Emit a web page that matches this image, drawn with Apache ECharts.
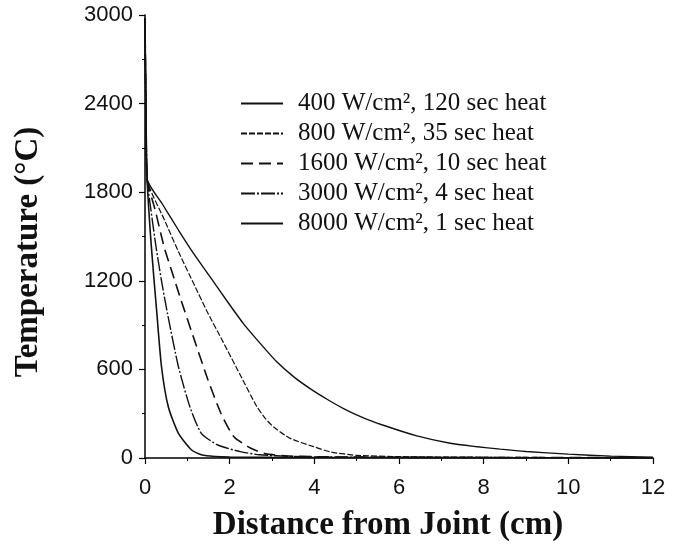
<!DOCTYPE html>
<html>
<head>
<meta charset="utf-8">
<script src="https://cdn.jsdelivr.net/npm/echarts@6/dist/echarts.min.js"></script>
<style>html,body{margin:0;padding:0;background:#fff;}#c{width:681px;height:546px;}</style>
</head>
<body>
<div id="c"></div>
<script>
// Data
const seriesNames = [
  '400 W/cm², 120 sec heat',
  '800 W/cm², 35 sec heat',
  '1600 W/cm², 10 sec heat',
  '3000 W/cm², 4 sec heat',
  '8000 W/cm², 1 sec heat'
];
const x400 = [0, 0.02, 0.05, 0.42, 0.79, 1.15, 1.53, 1.92, 2.32, 2.7, 3.1, 3.5, 3.9, 4.3, 4.69, 5.16, 5.63, 6.4, 7.21, 7.8, 8.39, 9, 10, 11, 12];
const t400 = [2980, 2400, 1890, 1715, 1544, 1384, 1230, 1070, 912, 783, 655, 553, 470, 398, 335, 272, 222, 152, 100, 78, 60, 44, 26, 13, 6];
const x800 = [0, 0.02, 0.05, 0.45, 0.83, 1.15, 1.46, 1.85, 2.25, 2.64, 2.85, 3.03, 3.43, 3.98, 4.4, 5, 6, 8, 10, 12];
const t800 = [2980, 2400, 1890, 1618, 1373, 1181, 996, 783, 562, 349, 265, 212, 133, 77, 40, 18, 9, 5, 3, 2];
const x1600 = [0, 0.02, 0.05, 0.24, 0.45, 0.65, 0.85, 1.16, 1.48, 1.79, 2.1, 2.5, 2.85, 3.5, 5, 8, 12];
const t1600 = [2980, 2400, 1890, 1680, 1431, 1250, 1070, 805, 535, 305, 144, 66, 28, 12, 6, 3, 2];
const x3000 = [0, 0.02, 0.05, 0.14, 0.26, 0.39, 0.53, 0.79, 1.06, 1.33, 1.72, 2.25, 2.7, 3.5, 5, 8, 12];
const t3000 = [2980, 2400, 1890, 1680, 1431, 1200, 980, 618, 347, 167, 88, 43, 22, 10, 5, 3, 2];
const x8000 = [0, 0.02, 0.05, 0.15, 0.28, 0.39, 0.55, 0.79, 1.1, 1.35, 1.65, 2, 3, 5, 8, 12];
const t8000 = [2980, 2400, 1890, 1431, 980, 618, 347, 167, 54, 20, 10, 6, 4, 3, 2, 1];
const xTicks = [0, 2, 4, 6, 8, 10, 12];
const yTicks = [0, 600, 1200, 1800, 2400, 3000];

const xs = [x400, x800, x1600, x3000, x8000];
const ts = [t400, t800, t1600, t3000, t8000];
const styles = [
  { type: 'solid', width: 1.4 },
  { type: [6, 2], width: 1.2 },
  { type: [12, 6], width: 1.6 },
  { type: [14, 2, 2, 2], width: 1.4 },
  { type: 'solid', width: 1.6 }
];

const chart = echarts.init(document.getElementById('c'), null, { renderer: 'canvas' });
const serif = '"Liberation Serif", "Times New Roman", serif';
const sans = '"Liberation Sans", Arial, sans-serif';

chart.setOption({
  animation: false,
  backgroundColor: '#fff',
  grid: { left: 145, right: 28, top: 15, bottom: 88 },
  xAxis: {
    type: 'value',
    min: xTicks[0], max: xTicks[xTicks.length - 1], interval: xTicks[1] - xTicks[0],
    axisLine: { show: true, lineStyle: { color: '#000', width: 1.5 } },
    axisTick: { show: true, length: 6, lineStyle: { color: '#000', width: 1.2 } },
    minorTick: { show: true, splitNumber: 2, length: 3, lineStyle: { color: '#000', width: 1 } },
    splitLine: { show: false },
    axisLabel: { fontSize: 22, fontFamily: sans, color: '#111', margin: 19, formatter: v => String(v) }
  },
  yAxis: {
    type: 'value',
    min: yTicks[0], max: yTicks[yTicks.length - 1], interval: yTicks[1] - yTicks[0],
    axisLine: { show: true, lineStyle: { color: '#000', width: 1.5 } },
    axisTick: { show: true, length: 6, lineStyle: { color: '#000', width: 1.2 } },
    minorTick: { show: true, splitNumber: 2, length: 3, lineStyle: { color: '#000', width: 1 } },
    splitLine: { show: false },
    axisLabel: { fontSize: 22, fontFamily: sans, color: '#111', margin: 12, formatter: v => String(v) }
  },
  legend: {
    orient: 'vertical',
    left: 240, top: 91, padding: 0,
    itemWidth: 42, itemHeight: 12, itemGap: 5,
    itemStyle: { opacity: 0, borderWidth: 0 },
    textStyle: { fontFamily: serif, fontSize: 25, color: '#111', padding: [0, 0, 0, 10] },
    data: seriesNames
  },
  graphic: [
    {
      type: 'text', x: 28, y: 252, rotation: Math.PI / 2,
      style: { text: 'Temperature (°C)', font: 'bold 33px ' + serif, fill: '#111',
        textAlign: 'center', textVerticalAlign: 'middle', align: 'center', verticalAlign: 'middle' }
    },
    {
      type: 'text', x: 388, y: 525,
      style: { text: 'Distance from Joint (cm)', font: 'bold 33px ' + serif, fill: '#111',
        textAlign: 'center', textVerticalAlign: 'middle', align: 'center', verticalAlign: 'middle' }
    }
  ],
  series: seriesNames.map((name, i) => ({
    name: name,
    type: 'line',
    data: xs[i].map((x, j) => [x, ts[i][j]]),
    symbol: 'none',
    smooth: 0.2,
    lineStyle: Object.assign({ color: '#111' }, styles[i]),
    itemStyle: { color: '#111' }
  }))
});
</script>
</body>
</html>
